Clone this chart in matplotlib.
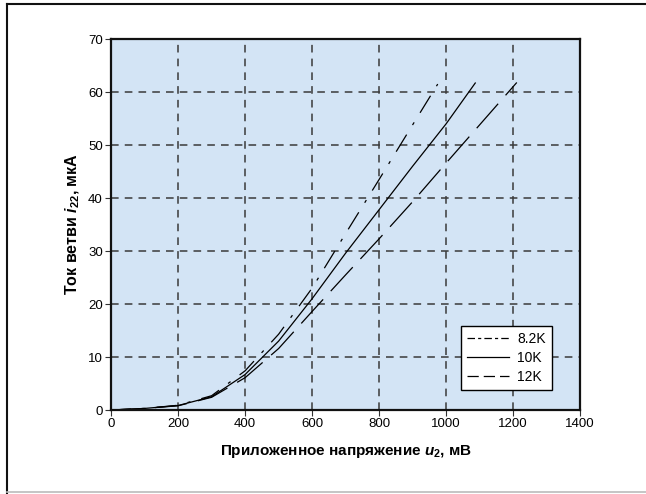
import matplotlib.pyplot as plt
from matplotlib.lines import Line2D

plt.rcParams['font.family'] = ['Liberation Sans', 'DejaVu Sans']
plt.rcParams['mathtext.fontset'] = 'custom'
plt.rcParams['mathtext.rm'] = 'Liberation Sans:bold'
plt.rcParams['mathtext.it'] = 'Liberation Sans:italic:bold'

# branch current vs applied voltage for three resistor values
u_82k = [0, 100, 200, 300, 400, 500, 600, 700, 800, 900, 975]
i_82k = [0, 0.3, 0.9, 2.7, 7.4, 14.3, 23.0, 33.3, 43.5, 53.8, 61.5]

u_10k = [0, 100, 200, 300, 400, 500, 600, 700, 800, 900, 1000, 1087]
i_10k = [0, 0.3, 0.85, 2.5, 6.7, 13.0, 21.0, 29.6, 37.8, 46.0, 54.0, 61.7]

u_12k = [0, 100, 200, 300, 400, 500, 600, 700, 800, 900, 1000, 1100, 1211]
i_12k = [0, 0.3, 0.8, 2.4, 6.1, 11.6, 18.6, 25.5, 32.3, 39.3, 46.6, 53.8, 61.8]

labels = ['8.2K', '10K', '12K']

fig = plt.figure(figsize=(6.46, 4.94), dpi=100)
ax = fig.add_axes([0.172, 0.170, 0.726, 0.751])
ax.set_facecolor('#d3e4f5')

ax.plot(u_82k, i_82k, color='black', lw=0.9, dashes=(16, 9, 2.5, 9), label=labels[0])
ax.plot(u_10k, i_10k, color='black', lw=0.9, label=labels[1])
ax.plot(u_12k, i_12k, color='black', lw=0.9, dashes=(26, 9), label=labels[2])

ax.set_xlim(0, 1400)
ax.set_ylim(0, 70)
ax.set_xticks(range(0, 1401, 200))
ax.set_yticks(range(0, 71, 10))
ax.grid(True, color='#3a3a3a', lw=1.1, dashes=(5, 4))
ax.set_axisbelow(True)
ax.tick_params(labelsize=9.5, length=4, color='#333333', pad=2)
for s in ax.spines.values():
    s.set_linewidth(1.6)
    s.set_color('#111111')

ax.set_xlabel('Приложенное напряжение $u_2$, мВ', fontsize=11, fontweight='bold', labelpad=9)
ax.set_ylabel('Ток ветви $i_{22}$, мкА', fontsize=11.5, fontweight='bold', labelpad=4)

leg = ax.legend(loc='lower right', bbox_to_anchor=(0.94, 0.054), borderaxespad=0,
                fontsize=10, frameon=True, fancybox=False, edgecolor='black',
                facecolor='white', framealpha=1, handlelength=3.0, borderpad=0.45,
                labelspacing=0.35, handletextpad=0.6)
leg.get_frame().set_linewidth(1.0)
# legend keys use shorter dash patterns so each fits in the key
leg.legend_handles[0].set_dashes((6, 2.5, 2.5, 2.5))
leg.legend_handles[2].set_dashes((9, 4))

# outer frame of the figure
fig.add_artist(Line2D([7 / 646, 1], [1 - 4 / 494, 1 - 4 / 494], color='#111111', lw=1.5))
fig.add_artist(Line2D([7 / 646, 7 / 646], [1 - 4 / 494, 0], color='#111111', lw=1.5))
fig.add_artist(Line2D([7 / 646, 1], [2 / 494, 2 / 494], color='#bbbbbb', lw=1.2))

fig.savefig('out.png', dpi=100)
